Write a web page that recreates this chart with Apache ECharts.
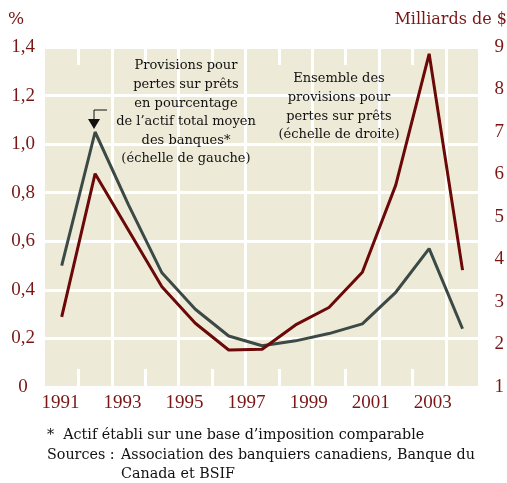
<!DOCTYPE html>
<html>
<head>
<meta charset="utf-8">
<script src="https://cdn.jsdelivr.net/npm/echarts@6/dist/echarts.min.js"></script>
<style>
  html, body { margin: 0; padding: 0; background: #fff; }
  #chart { width: 507px; height: 483px; }
</style>
</head>
<body>
<div id="chart"></div>
<script>
// years of the data points
var years = ['1991', '1992', '1993', '1994', '1995', '1996', '1997', '1998', '1999', '2000', '2001', '2002', '2003'];
// label slots under the axis (every other one is shown)
var yearLabels = ['1991', '1992', '1993', '1994', '1995', '1996', '1997', '1998', '1999', '2000', '2001', '2002', '2003', '2004'];
// % of average total assets (left scale)
var pctAssets = [0.50, 1.05, 0.75, 0.47, 0.32, 0.21, 0.17, 0.19, 0.22, 0.26, 0.39, 0.57, 0.24];
// total provisions, billions $ (right scale)
var totalProv = [2.65, 6.02, 4.69, 3.36, 2.50, 1.87, 1.89, 2.46, 2.87, 3.70, 5.75, 8.84, 3.75];

var maroon = '#7a1616';
var lineRed = '#6b0808';
var lineGray = '#3c4a47';
var serif = '"Liberation Serif", "DejaVu Serif", serif';
var textSerif = '"DejaVu Serif", serif';

var chart = echarts.init(document.getElementById('chart'));

var textLines = function (lines, cx, y0, step) {
    return lines.map(function (s, i) {
        return {
            type: 'text', z: 100,
            x: cx, y: y0 + i * step,
            style: { text: s, fill: '#111', font: '13px ' + textSerif, textAlign: 'center', textVerticalAlign: 'middle' }
        };
    });
};

var graphics = [
    { type: 'text', x: 16, y: 20, style: { text: '%', fill: maroon, font: '17px ' + textSerif, textAlign: 'center', textVerticalAlign: 'middle' } },
    { type: 'text', x: 507, y: 20, style: { text: 'Milliards de $', fill: maroon, font: '16px ' + textSerif, textAlign: 'right', textVerticalAlign: 'middle' } },
    // arrow to the peak
    { type: 'polyline', z: 100, shape: { points: [[107, 110], [94, 110], [94, 120]] }, style: { stroke: '#111', lineWidth: 1, fill: null } },
    { type: 'polygon', z: 100, shape: { points: [[88, 119], [100, 119], [94, 129]] }, style: { fill: '#111' } },
    { type: 'text', x: 47, y: 435, style: { text: '*  Actif établi sur une base d\u2019imposition comparable', fill: '#111', font: '14.3px ' + textSerif, textVerticalAlign: 'middle' } },
    { type: 'text', x: 47, y: 455, style: { text: 'Sources :', fill: '#111', font: '14.3px ' + textSerif, textVerticalAlign: 'middle' } },
    { type: 'text', x: 121, y: 455, style: { text: 'Association des banquiers canadiens, Banque du', fill: '#111', font: '14.3px ' + textSerif, textVerticalAlign: 'middle' } },
    { type: 'text', x: 121, y: 474, style: { text: 'Canada et BSIF', fill: '#111', font: '14.3px ' + textSerif, textVerticalAlign: 'middle' } }
];
graphics = graphics.concat(textLines(['Provisions pour', 'pertes sur prêts', 'en pourcentage', 'de l\u2019actif total moyen', 'des banques*', '(échelle de gauche)'], 186, 66, 18.6));
graphics = graphics.concat(textLines(['Ensemble des', 'provisions pour', 'pertes sur prêts', '(échelle de droite)'], 339, 79, 18.7));

var oddIdx = function (i) { return i % 2 === 1; };
var evenIdx = function (i) { return i > 0 && i % 2 === 0; };

chart.setOption({
    backgroundColor: '#fff',
    animation: false,
    grid: { left: 45, right: 24, top: 47, bottom: 96, show: true, backgroundColor: '#eeead8', borderWidth: 0 },
    xAxis: [
        {
            type: 'category', data: years, boundaryGap: true, position: 'bottom',
            axisLine: { show: false },
            axisTick: { show: true, inside: true, length: 18, interval: oddIdx, lineStyle: { color: '#fff', width: 3 } },
            axisLabel: { show: false },
            splitLine: { show: true, interval: evenIdx, lineStyle: { color: '#fff', width: 3 } },
            z: 3
        },
        {
            type: 'category', data: years, boundaryGap: true, position: 'top',
            axisLine: { show: false },
            axisTick: { show: true, inside: true, length: 18, interval: oddIdx, lineStyle: { color: '#fff', width: 3 } },
            axisLabel: { show: false },
            splitLine: { show: false }
        },
        {
            type: 'category', data: yearLabels, boundaryGap: true, position: 'bottom',
            axisLine: { show: false }, axisTick: { show: false },
            axisLabel: { interval: 1, color: maroon, fontFamily: serif, fontSize: 19, margin: 7 },
            splitLine: { show: false }
        }
    ],
    yAxis: [
        {
            type: 'value', min: 0, max: 1.4, interval: 0.2, position: 'left',
            axisLine: { show: false }, axisTick: { show: false },
            axisLabel: {
                color: maroon, fontFamily: serif, fontSize: 19, align: 'center', margin: 22,
                formatter: function (v) { return v === 0 ? '0' : v.toFixed(1).replace('.', ','); }
            },
            splitLine: { show: true, lineStyle: { color: '#fff', width: 3 } }
        },
        {
            type: 'value', min: 1, max: 9, interval: 1, position: 'right',
            axisLine: { show: false }, axisTick: { show: false },
            axisLabel: { color: maroon, fontFamily: serif, fontSize: 19, align: 'center', margin: 20 },
            splitLine: { show: false }
        }
    ],
    series: [
        {
            name: 'pct', type: 'line', data: pctAssets, xAxisIndex: 0, yAxisIndex: 0,
            symbol: 'none', lineStyle: { color: lineGray, width: 3 }, z: 4
        },
        {
            name: 'total', type: 'line', data: totalProv, xAxisIndex: 0, yAxisIndex: 1,
            symbol: 'none', lineStyle: { color: lineRed, width: 3 }, z: 5
        }
    ],
    graphic: graphics
});
</script>
</body>
</html>
